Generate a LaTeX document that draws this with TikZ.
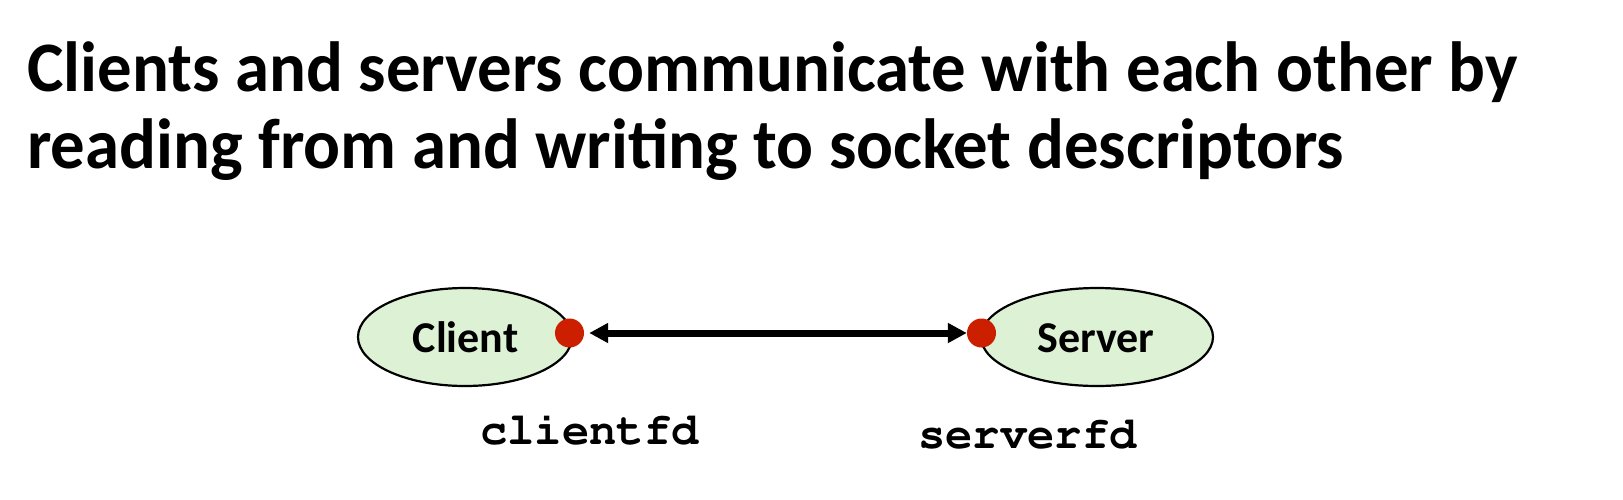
\documentclass[tikz,border=0pt]{standalone}
\usepackage[T1]{fontenc}
\usepackage{fontspec}
\setmainfont{Carlito}
\newcommand{\courierbold}{\fontencoding{T1}\fontfamily{pcr}\fontseries{b}\selectfont}
\usetikzlibrary{shapes.geometric,arrows.meta}
\definecolor{ellfill}{HTML}{DDF1D5}
\definecolor{dotred}{HTML}{CC1F00}
\tikzset{
  hostell/.style={ellipse, draw=black, line width=2.2pt, fill=ellfill, inner sep=0pt},
  hostlabel/.style={font=\fontsize{44}{50}\selectfont\bfseries, anchor=base, inner sep=0pt},
  fdlabel/.style={font=\fontsize{45.5}{50}\courierbold, anchor=base, inner sep=0pt},
  titlelabel/.style={font=\fontsize{71}{80}\selectfont\bfseries, anchor=base west, inner sep=0pt},
  sockdot/.style={circle, fill=dotred, minimum size=29pt, inner sep=0pt},
  link/.style={line width=7pt, {Triangle[length=19pt,width=19pt]}-{Triangle[length=19pt,width=19pt]}}
}
\begin{document}
\begin{tikzpicture}[x=1pt,y=-1pt]
\useasboundingbox (0,0) rectangle (1623,499);
\node[titlelabel] (t1) at (27,91) {\scalebox{0.969}[1]{Clients and servers communicate with each other by}};
\node[titlelabel] (t2) at (27,168) {\scalebox{0.969}[1]{reading from and writing to socket descriptors}};
\node[hostell, minimum width=214pt, minimum height=98pt] (client) at (465,337) {};
\node[hostell, minimum width=232pt, minimum height=98pt] (server) at (1097,337) {};
\node[hostlabel] (clientlbl) at (465.5,352) {Client};
\node[hostlabel] (serverlbl) at (1096,352) {Server};
\node[sockdot] (cdot) at (569.5,333) {};
\node[sockdot] (sdot) at (981.5,333) {};
\draw[link] ([xshift=5pt]cdot.east) -- (sdot.west);
\node[fdlabel] (cfd) at (589.5,444) {clientfd};
\node[fdlabel] (sfd) at (1027.5,448) {serverfd};
\end{tikzpicture}
\end{document}
